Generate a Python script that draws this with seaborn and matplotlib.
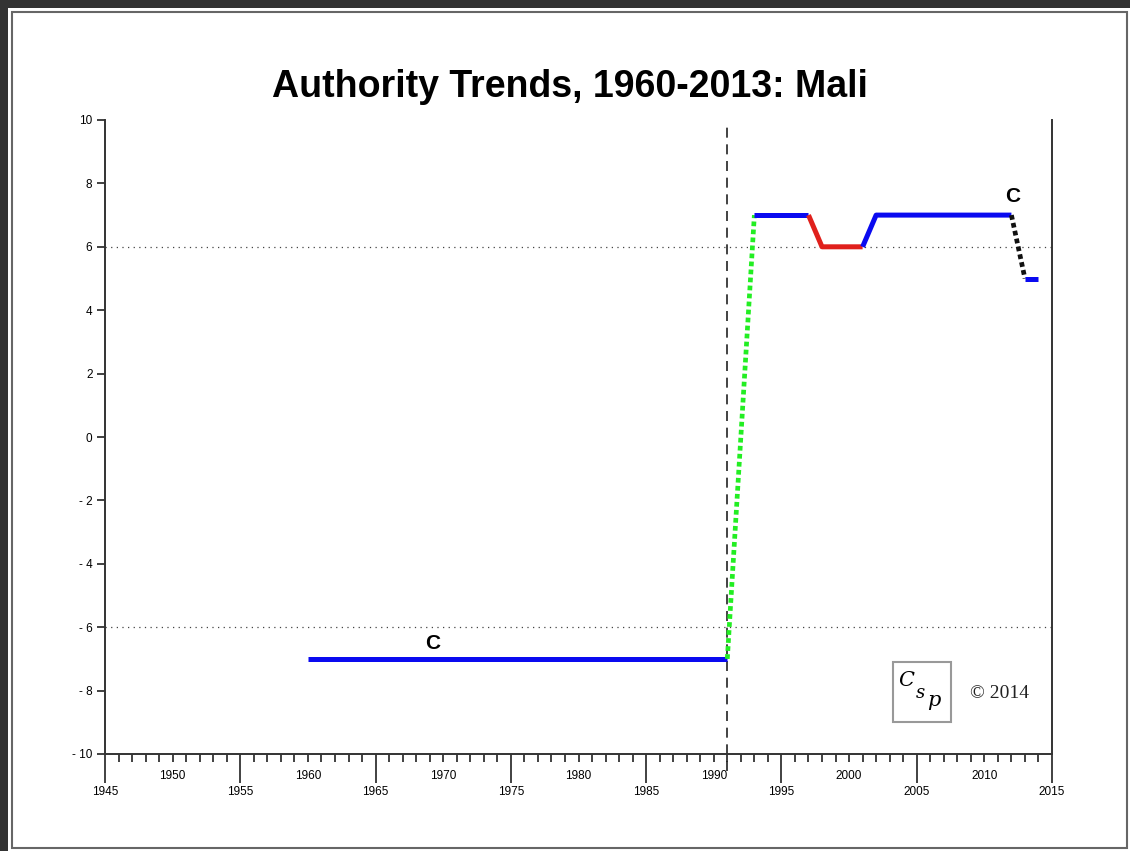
import pandas as pd
import seaborn as sns
import matplotlib.pyplot as plt
from matplotlib.patches import Rectangle

# polity segments (year, authority value)
seg_years = [
    [1960, 1991],
    [1991, 1993],
    [1993, 1997],
    [1997, 1998, 2001],
    [2001, 2002, 2012],
    [2012, 2013],
    [2013, 2014],
]
seg_values = [
    [-7, -7],
    [-7, 7],
    [7, 7],
    [7, 6, 6],
    [6, 7, 7],
    [7, 5],
    [5, 5],
]
seg_kind = ["polity", "transition", "polity", "factional", "polity", "collapse", "polity"]

event_year = 1991
threshold = [6, -6]
c_labels = [(1969.2, -6.5), (2012.1, 7.6)]

major_years = list(range(1945, 2016, 10))
upper_years = list(range(1950, 2011, 10))
y_ticks = list(range(-10, 11, 2))
y_labels = [str(v) if v >= 0 else "- " + str(-v) for v in y_ticks]

rows = []
for i, (xs, ys) in enumerate(zip(seg_years, seg_values)):
    for x, y in zip(xs, ys):
        rows.append({"seg": i, "year": x, "value": y, "kind": seg_kind[i]})
df = pd.DataFrame(rows)

styles = {
    "polity": dict(color="#0a0af0", linestyle="-", linewidth=3.6),
    "factional": dict(color="#e0201c", linestyle="-", linewidth=3.6),
    "transition": dict(color="#22ee22", linestyle=(0, (1, 0.7)), linewidth=3.4),
    "collapse": dict(color="#111111", linestyle=(0, (1, 0.7)), linewidth=3.4),
}

sns.set_theme(style="white")
plt.rcParams["font.family"] = ["Liberation Sans", "DejaVu Sans"]
plt.rcParams["text.color"] = "black"
plt.rcParams["xtick.color"] = "#333333"
plt.rcParams["ytick.color"] = "#333333"
plt.rcParams["xtick.labelcolor"] = "black"
plt.rcParams["ytick.labelcolor"] = "black"

fig = plt.figure(figsize=(11.3, 8.51), dpi=100)
ax = fig.add_axes([105 / 1130, 1 - 754 / 851, (1052 - 105) / 1130, (754 - 120) / 851])

for i in range(len(seg_years)):
    d = df[df["seg"] == i]
    st = styles[seg_kind[i]]
    sns.lineplot(data=d, x="year", y="value", ax=ax, color=st["color"],
                 linewidth=st["linewidth"], sort=False, estimator=None,
                 solid_capstyle="butt")
    ax.lines[-1].set_linestyle(st["linestyle"])
    ax.lines[-1].set_dash_capstyle("butt")

for t in threshold:
    ax.axhline(t, color="#444444", linestyle=(0, (1, 3.5)), linewidth=0.9, zorder=1)
ax.axvline(event_year, ymin=-0.027, ymax=0.99, color="#222222", linestyle=(0, (6, 4)),
           linewidth=1.2, clip_on=False, zorder=1)

for x, y in c_labels:
    ax.text(x, y, "C", fontsize=15, fontweight="bold", ha="center", va="center",
            color="black")

ax.set_xlim(1945, 2015)
ax.set_ylim(-10, 10)
ax.set_xlabel("")
ax.set_ylabel("")

ax.set_xticks(major_years)
ax.set_xticklabels([str(y) for y in major_years], fontsize=8.5)
ax.set_xticks(range(1945, 2016), minor=True)
ax.tick_params(axis="x", which="major", direction="out", length=21, width=1.3,
               pad=2, bottom=True)
ax.tick_params(axis="x", which="minor", direction="out", length=5.5, width=1.3,
               bottom=True)
for y in upper_years:
    ax.text(y, -0.035, str(y), transform=ax.get_xaxis_transform(), fontsize=8.5,
            ha="center", va="center", color="black")

ax.set_yticks(y_ticks)
ax.set_yticklabels(y_labels, fontsize=8.5)
ax.tick_params(axis="y", direction="out", length=6, width=1.3, left=True, pad=3)

for side in ["left", "bottom", "right"]:
    ax.spines[side].set_color("#333333")
    ax.spines[side].set_linewidth(1.4)
ax.spines["top"].set_visible(False)

fig.text(570 / 1130, 1 - 87 / 851, "Authority Trends, 1960-2013: Mali",
         fontsize=27, fontweight="bold", ha="center", va="center", color="black")

# CSP logo and copyright
fig.patches.append(Rectangle((893 / 1130, 1 - 722 / 851), 58 / 1130, 60 / 851,
                             transform=fig.transFigure, facecolor="white",
                             edgecolor="#999999", linewidth=1.5))
fig.text(906 / 1130, 1 - 680 / 851, "C", family="DejaVu Serif", style="italic",
         fontsize=15, ha="center", va="center")
fig.text(920 / 1130, 1 - 693 / 851, "s", family="DejaVu Serif", style="italic",
         fontsize=13, ha="center", va="center")
fig.text(934 / 1130, 1 - 700 / 851, "p", family="DejaVu Serif", style="italic",
         fontsize=15, ha="center", va="center")
fig.text(1000 / 1130, 1 - 693 / 851, "\u00a9 2014", family="Liberation Serif",
         fontsize=14, ha="center", va="center", color="#222222")

# outer frame
fig.patches.append(Rectangle((0, 1 - 8 / 851), 1, 8 / 851, transform=fig.transFigure,
                             facecolor="#333333", edgecolor="none"))
fig.patches.append(Rectangle((0, 0), 8 / 1130, 1, transform=fig.transFigure,
                             facecolor="#333333", edgecolor="none"))
fig.patches.append(Rectangle((12 / 1130, 3 / 851), 1115 / 1130, 836 / 851,
                             transform=fig.transFigure, facecolor="none",
                             edgecolor="#666666", linewidth=1.5))

fig.savefig("out.png", dpi=100)
plt.close(fig)
